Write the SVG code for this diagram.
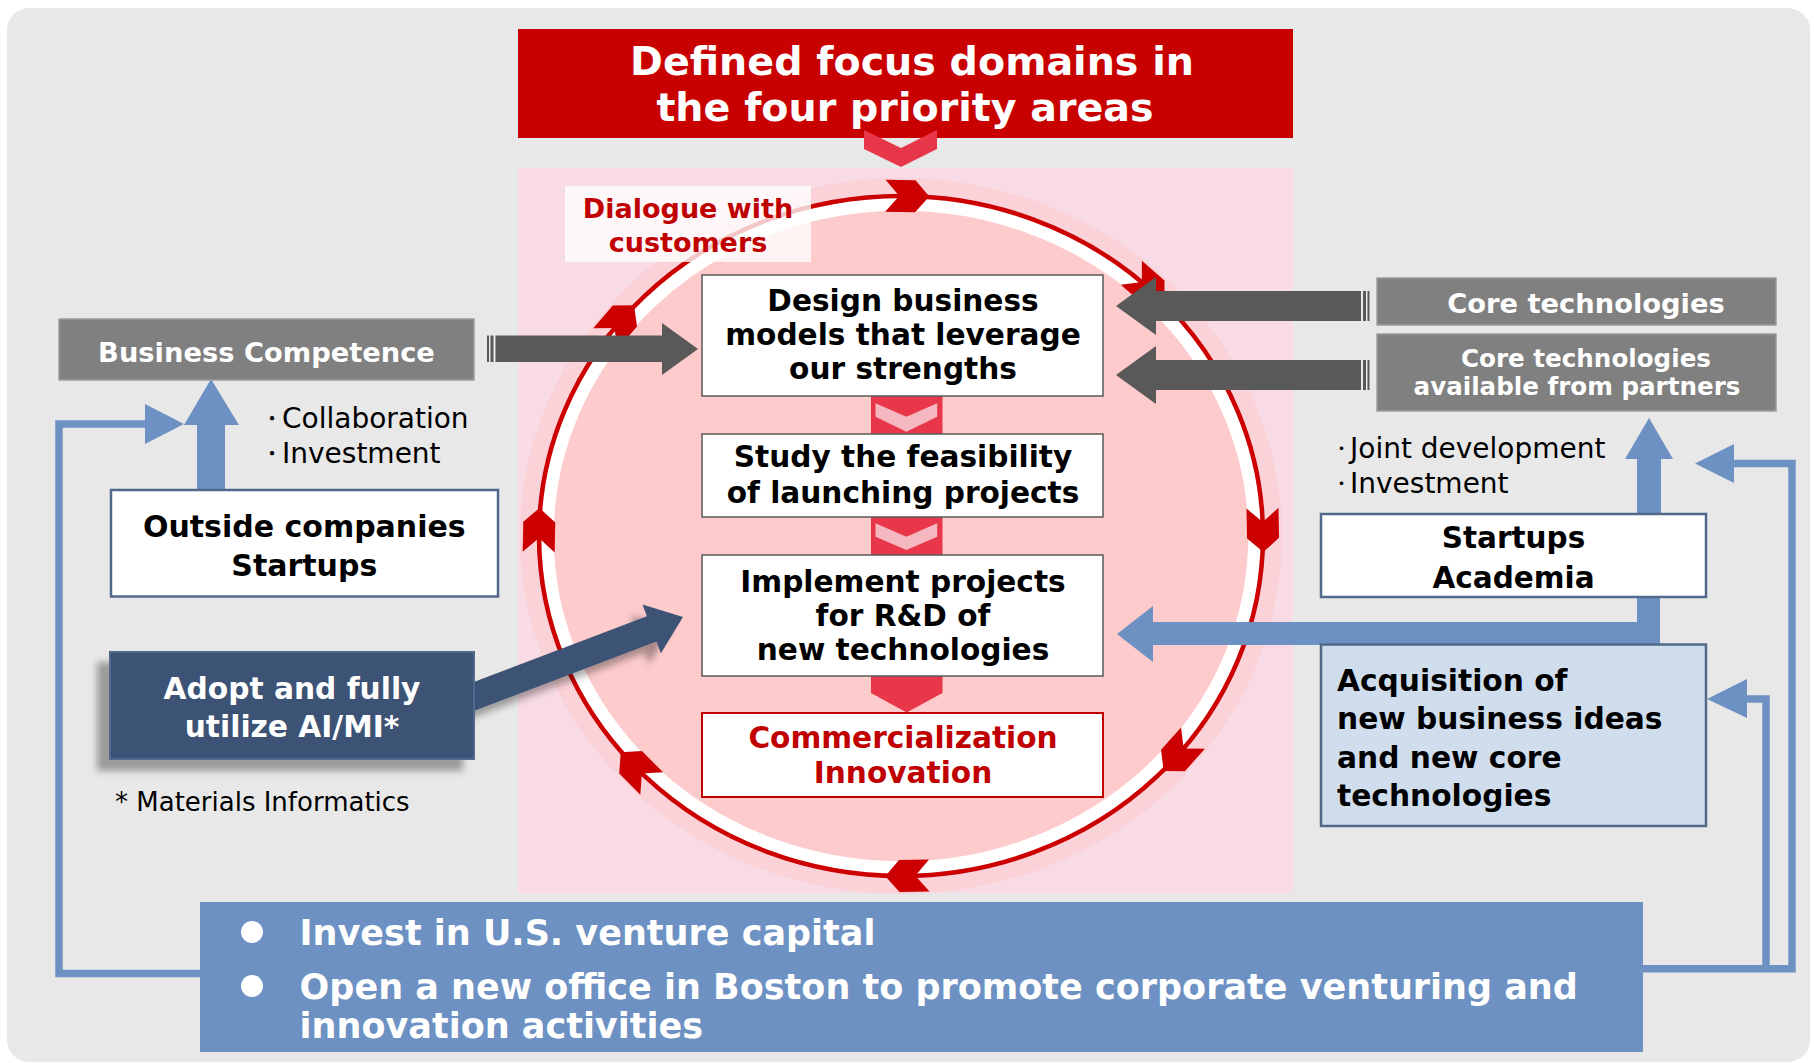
<svg xmlns="http://www.w3.org/2000/svg" width="1814" height="1063" viewBox="0 0 1814 1063">
<defs>
<style>
text{font-family:"DejaVu Sans","Noto Sans CJK JP",sans-serif}
.b{font-weight:bold}
.c{text-anchor:middle}
.wbox{fill:#ffffff;stroke:#595959;stroke-width:1.5}
.sbox{fill:#ffffff;stroke:#52698C;stroke-width:2.5}
.gbox{fill:#808080;stroke:#9C9C9C;stroke-width:1.5}
.dg{fill:#595959}
.bl{fill:#6C91C2}
.bll{fill:none;stroke:#6C91C2;stroke-width:7.5;stroke-linejoin:miter}
.chev{fill:#E8374A}
.pchev{fill:#F6B8C0}
.ring{fill:#CC0000}
</style>
<polygon id="ah" points="-22,-16 8,-16 22,0 8,16 -22,16 -8,0"/>
<filter id="sh" x="-30%" y="-30%" width="160%" height="170%">
<feGaussianBlur in="SourceAlpha" stdDeviation="3.5"/>
<feOffset dx="-12" dy="11" result="o"/>
<feFlood flood-color="#000000" flood-opacity="0.33"/>
<feComposite in2="o" operator="in"/>
<feMerge><feMergeNode/><feMergeNode in="SourceGraphic"/></feMerge>
</filter>
</defs>

<rect x="7" y="8" width="1803" height="1054" rx="22" fill="#E8E8E8"/>

<g id="cycle">
<rect x="518" y="168" width="775" height="725" fill="#F8DBE4"/>
<ellipse cx="901" cy="536" rx="381" ry="358" fill="#FAD2D7"/>
<ellipse cx="901" cy="536" rx="362" ry="340" fill="#FDCBCB"/>
<ellipse cx="901" cy="536" rx="353.5" ry="331.5" fill="none" stroke="#FFFFFF" stroke-width="12.5"/>
<ellipse cx="901" cy="536" rx="362" ry="340" fill="none" stroke="#CC0000" stroke-width="4.5"/>
<use href="#ah" class="ring" transform="translate(907.3,196.1) rotate(0.9)"/>
<use href="#ah" class="ring" transform="translate(1147.9,287.3) rotate(41.2)"/>
<use href="#ah" class="ring" transform="translate(1262.9,530.1) rotate(88.9)"/>
<use href="#ah" class="ring" transform="translate(1178.3,754.5) rotate(131.8)"/>
<use href="#ah" class="ring" transform="translate(907.3,875.9) rotate(179.1)"/>
<use href="#ah" class="ring" transform="translate(636.2,767.9) rotate(225.2)"/>
<use href="#ah" class="ring" transform="translate(539.1,530.1) rotate(271.1)"/>
<use href="#ah" class="ring" transform="translate(619.7,322) rotate(310.8)"/>
</g>

<g id="title">
<rect x="518" y="29" width="775" height="109" fill="#C90000"/>
<text class="b c" x="912" y="75" font-size="39.6" fill="#FFFFFF">Defined focus domains in</text>
<text class="b c" x="905" y="121" font-size="39.6" fill="#FFFFFF">the four priority areas</text>
</g>

<g id="connectors">
<polygon class="chev" points="864,130 901,148 937,130 937,149 901,167 864,149"/>
<rect class="chev" x="871" y="396" width="71.5" height="38"/>
<polygon class="pchev" points="875.5,403.3 906.4,416.7 937.2,403.3 937.2,416.7 906.4,431.7 875.5,416.7"/>
<rect class="chev" x="871" y="517" width="71.5" height="38"/>
<polygon class="pchev" points="875.5,523.3 906.4,536.7 937.2,523.3 937.2,536.7 906.4,550 875.5,536.7"/>
<polygon class="chev" points="871,676 942.5,676 942.5,693 906.7,712.5 871,693"/>

<rect class="dg" x="487" y="335.5" width="2" height="26.5"/>
<rect class="dg" x="490.5" y="335.5" width="3" height="26.5"/>
<polygon class="dg" points="495.5,335.5 662,335.5 662,323 698,349 662,375 662,362 495.5,362"/>

<polygon class="dg" points="1361,291 1156,291 1156,277 1116,306 1156,335 1156,321 1361,321"/>
<rect class="dg" x="1363" y="291" width="3" height="30"/>
<rect class="dg" x="1367.5" y="291" width="2" height="30"/>
<polygon class="dg" points="1361,360 1156,360 1156,346 1116,375 1156,404 1156,390 1361,390"/>
<rect class="dg" x="1363" y="360" width="3" height="30"/>
<rect class="dg" x="1367.5" y="360" width="2" height="30"/>

<g filter="url(#sh)">
<polygon fill="#3D5274" transform="translate(475,696) rotate(-20.8)" points="-20,-13.5 189,-13.5 189,-26 222.5,0 189,26 189,13.5 -20,13.5"/>
</g>

<polygon class="bl" points="197,490 197,425 184,425 211,379 239,425 225,425 225,490"/>
<polyline class="bll" points="200,973.5 59,973.5 59,424 147,424"/>
<polygon class="bl" points="145,404 184,424 145,444"/>

<polygon class="bl" points="1637,514 1637,459 1625,459 1649,418 1673,459 1661,459 1661,514"/>
<polygon class="bl" points="1637,597 1660,597 1660,645 1153,645 1153,662 1117,634 1153,606 1153,622 1637,622"/>
<polyline class="bll" points="1643,968.7 1792,968.7 1792,463.5 1733,463.5"/>
<polygon class="bl" points="1734,444 1695,463.5 1734,483"/>
<polyline class="bll" points="1766,968.7 1766,699 1746,699"/>
<polygon class="bl" points="1747,679 1707,699 1747,718"/>
</g>

<g id="dialogue">
<rect x="565" y="186" width="246" height="76" fill="#FFFFFF" fill-opacity="0.78"/>
<text class="b c" x="688" y="218" font-size="27" fill="#C00000">Dialogue with</text>
<text class="b c" x="688" y="252" font-size="27" fill="#C00000">customers</text>
</g>

<g id="design">
<rect class="wbox" x="702" y="275" width="401" height="121"/>
<text class="b c" x="903" y="310.5" font-size="29.6">Design business</text>
<text class="b c" x="903" y="345" font-size="29.6">models that leverage</text>
<text class="b c" x="903" y="379" font-size="29.6">our strengths</text>
</g>

<g id="study">
<rect class="wbox" x="702" y="434" width="401" height="83"/>
<text class="b c" x="903" y="467.3" font-size="29.6">Study the feasibility</text>
<text class="b c" x="903" y="502.5" font-size="29.6">of launching projects</text>
</g>

<g id="implement">
<rect class="wbox" x="702" y="555" width="401" height="121"/>
<text class="b c" x="903" y="591.7" font-size="29.6">Implement projects</text>
<text class="b c" x="903" y="626" font-size="29.6">for R&amp;D of</text>
<text class="b c" x="903" y="659.5" font-size="29.6">new technologies</text>
</g>

<g id="commercialization">
<rect x="702" y="713" width="401" height="84" fill="#FFFFFF" stroke="#C00000" stroke-width="2"/>
<text class="b c" x="903" y="748.3" font-size="29.6" fill="#C00000">Commercialization</text>
<text class="b c" x="903" y="783.3" font-size="29.6" fill="#C00000">Innovation</text>
</g>

<g id="business-competence">
<rect class="gbox" x="59" y="319" width="415" height="61"/>
<text class="b c" x="266.5" y="361.7" font-size="27.3" fill="#FFFFFF">Business Competence</text>
</g>

<g id="collab-label">
<text x="262" y="428" font-size="28"><tspan font-size="20" dy="-2">・</tspan><tspan x="282" dy="2">Collaboration</tspan></text>
<text x="262" y="463.3" font-size="28"><tspan font-size="20" dy="-2">・</tspan><tspan x="282" dy="2">Investment</tspan></text>
</g>

<g id="outside">
<rect class="sbox" x="111" y="490" width="387" height="106.5"/>
<text class="b c" x="304.3" y="537" font-size="30">Outside companies</text>
<text class="b c" x="304.3" y="576" font-size="30">Startups</text>
</g>

<g id="adopt">
<rect x="110" y="652" width="364" height="107" fill="#3D5274" stroke="#4F6A8E" stroke-width="2" filter="url(#sh)"/>
<text class="b c" x="292" y="698.8" font-size="29.7" fill="#FFFFFF">Adopt and fully</text>
<text class="b c" x="292" y="737" font-size="29.7" fill="#FFFFFF">utilize AI/MI*</text>
</g>

<g id="note">
<text x="115" y="810.7" font-size="26">* Materials Informatics</text>
</g>

<g id="core">
<rect class="gbox" x="1377" y="278" width="399" height="47"/>
<text class="b c" x="1586" y="313.3" font-size="27.3" fill="#FFFFFF">Core technologies</text>
</g>

<g id="core-partners">
<rect class="gbox" x="1377" y="334" width="399" height="77"/>
<text class="b c" x="1586" y="367.3" font-size="24.6" fill="#FFFFFF">Core technologies</text>
<text class="b c" x="1577" y="395" font-size="24.6" fill="#FFFFFF">available from partners</text>
</g>

<g id="joint-label">
<text x="1333" y="458" font-size="28"><tspan font-size="17" dy="-3">・</tspan><tspan x="1350" dy="3">Joint development</tspan></text>
<text x="1333" y="493" font-size="28"><tspan font-size="17" dy="-3">・</tspan><tspan x="1350" dy="3">Investment</tspan></text>
</g>

<g id="startups">
<rect class="sbox" x="1321" y="514" width="385" height="83"/>
<text class="b c" x="1513.5" y="548.3" font-size="29.5">Startups</text>
<text class="b c" x="1513.5" y="587.7" font-size="29.5">Academia</text>
</g>

<g id="acquisition">
<rect x="1321" y="644.5" width="385" height="181.5" fill="#CFDDED" stroke="#52698C" stroke-width="2.5"/>
<text class="b" x="1337" y="690.8" font-size="29.7">Acquisition of</text>
<text class="b" x="1337" y="729" font-size="29.7">new business ideas</text>
<text class="b" x="1337" y="767.7" font-size="29.7">and new core</text>
<text class="b" x="1337" y="805.7" font-size="29.7">technologies</text>
</g>

<g id="venture">
<rect x="200" y="902" width="1443" height="150" fill="#6C91C2"/>
<circle cx="252" cy="932" r="11" fill="#FFFFFF"/>
<circle cx="252" cy="986" r="11" fill="#FFFFFF"/>
<text class="b" x="299.6" y="945" font-size="35" fill="#FFFFFF">Invest in U.S. venture capital</text>
<text class="b" x="299.6" y="999" font-size="35" fill="#FFFFFF">Open a new office in Boston to promote corporate venturing and</text>
<text class="b" x="299.6" y="1038.3" font-size="35" fill="#FFFFFF">innovation activities</text>
</g>
</svg>
